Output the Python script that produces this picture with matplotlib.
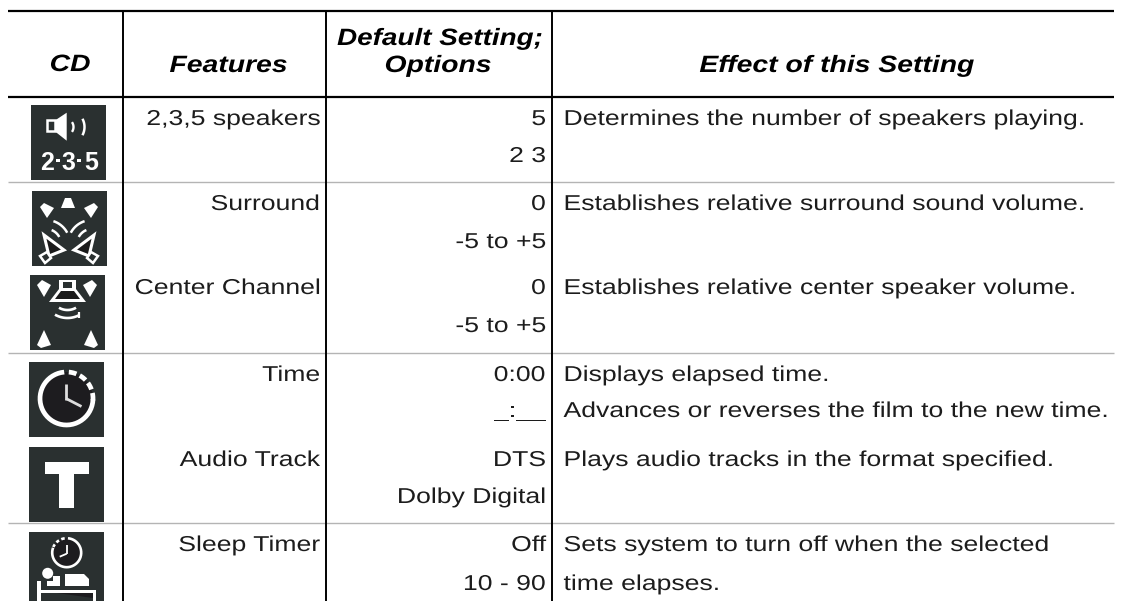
import numpy as np
import matplotlib
matplotlib.use("Agg")
import matplotlib.pyplot as plt
from matplotlib.patches import Polygon, Rectangle, Circle
from matplotlib.patheffects import AbstractPathEffect
from matplotlib.transforms import Affine2D

# table contents
headers = ["CD", "Features", "Default Setting;\nOptions", "Effect of this Setting"]
features = ["2,3,5 speakers", "Surround", "Center Channel", "Time", "Audio Track", "Sleep Timer"]
defaults = ["5", "0", "0", "0:00", "DTS", "Off"]
options = ["2 3", "-5 to +5", "-5 to +5", "_:__", "Dolby Digital", "10 - 90"]
effects = ["Determines the number of speakers playing.",
           "Establishes relative surround sound volume.",
           "Establishes relative center speaker volume.",
           "Displays elapsed time.",
           "Plays audio tracks in the format specified.",
           "Sets system to turn off when the selected"]
extra_effects = ["Advances or reverses the film to the new time.", "time elapses."]
icon_digits = ["2", "3", "5"]

# layout in pixels
row_y = [125, 210, 294, 381, 466, 551]
option_y = [162, 248, 332, 417, 503, 590]
extra_y = [417, 590]
icon_xy = [(31, 105), (32, 191), (30, 275), (29, 362), (29, 447), (29, 532)]
col_x = [123, 326, 552]
gray_y = [182, 353, 523]

DARK = "#2a3030"
INK = "#1c1c1c"
W = "white"

fig = plt.figure(figsize=(11.22, 6.01), dpi=100)
ax = fig.add_axes([0, 0, 1, 1])
ax.set_xlim(0, 1122)
ax.set_ylim(601, 0)
ax.axis("off")


# the original type is set wide, so widen the glyphs around the text anchor
class StretchX(AbstractPathEffect):
    def __init__(self, x0, sx):
        super().__init__()
        self.x0 = x0
        self.sx = sx

    def draw_path(self, renderer, gc, tpath, affine, rgbFace=None):
        wide = Affine2D().translate(-self.x0, 0).scale(self.sx, 1).translate(self.x0, 0)
        renderer.draw_path(gc, tpath, affine + wide, rgbFace)


def wide_text(x, y, s, sx, **kw):
    ax.text(x, y, s, path_effects=[StretchX(x, sx)], **kw)


def poly(pts, ox, oy, fc=W, ec="none", lw=0, z=3):
    pts = [(ox + x, oy + y) for x, y in pts]
    ax.add_patch(Polygon(pts, closed=True, fc=fc, ec=ec, lw=lw, zorder=z, joinstyle="miter"))


def arc(cx, cy, r, a0, a1, lw=1.6, color=W, z=4):
    t = np.radians(np.linspace(a0, a1, 40))
    ax.plot(cx + r * np.cos(t), cy - r * np.sin(t), color=color, lw=lw, zorder=z,
            solid_capstyle="butt")


def seg(x0, y0, x1, y1, lw=1.6, color=W, z=4):
    ax.plot([x0, x1], [y0, y1], color=color, lw=lw, zorder=z, solid_capstyle="butt")


# icon backgrounds
for i, (ix, iy) in enumerate(icon_xy):
    h = 69 if i == 5 else 75
    ax.add_patch(Rectangle((ix, iy), 75, h, fc=DARK, ec="none", zorder=2))

# icon 1 speaker
ox, oy = icon_xy[0]
ax.add_patch(Rectangle((ox + 16.5, oy + 15), 7.5, 11, fc=DARK, ec=W, lw=1.8, zorder=3))
poly([(24.7, 15), (35.7, 7.7), (35.7, 35.7), (24.7, 27)], ox, oy)
arc(ox + 34, oy + 22, 8.5, -35, 35, lw=1.7)
arc(ox + 36, oy + 22, 17.5, -28, 28, lw=1.8)
for d, dx in zip(icon_digits, [15.9, 37.5, 60.2]):
    ax.text(ox + dx, oy + 65, d, color=W, ha="center", va="baseline", fontsize=18,
            fontweight="bold", family="Liberation Sans", zorder=4)
ax.add_patch(Rectangle((ox + 25.2, oy + 53.5), 3.4, 3, fc=W, ec="none", zorder=4))
ax.add_patch(Rectangle((ox + 46.5, oy + 53.5), 3.4, 3, fc=W, ec="none", zorder=4))

# icon 2 surround
ox, oy = icon_xy[1]
poly([(33, 7), (39, 7), (43, 17), (29, 17)], ox, oy)
poly([(8, 16), (12, 12), (22, 17), (15, 27)], ox, oy)
poly([(66, 16), (62, 12), (52, 17), (59, 27)], ox, oy)
for sgn, mx in [(1, 0), (-1, 74)]:
    f = lambda x: mx + sgn * x
    poly([(f(12), 44), (f(32), 59), (f(17), 65)], ox, oy, fc="#1a1a1a", ec=W, lw=2.2)
    poly([(f(8), 65), (f(15), 61), (f(19), 67), (f(13), 72)], ox, oy, fc=DARK, ec=W, lw=1.8)
arc(ox + 14, oy + 53, 24, 28, 72, lw=1.8)
arc(ox + 14, oy + 53, 15, 28, 68, lw=1.8)
arc(ox + 60, oy + 53, 24, 108, 152, lw=1.8)
arc(ox + 60, oy + 53, 15, 112, 152, lw=1.8)

# icon 3 center channel
ox, oy = icon_xy[2]
poly([(7, 10), (12, 5), (21, 10), (14, 22)], ox, oy)
poly([(67, 10), (62, 5), (53, 10), (60, 22)], ox, oy)
poly([(29, 5), (46, 5), (46, 14), (56, 27), (19, 27), (29, 14)], ox, oy)
poly([(33, 7), (42, 7), (42, 13), (33, 13)], ox, oy, fc=DARK)
poly([(31, 16), (44, 16), (50, 24), (25, 24)], ox, oy, fc="#1a1a1a")
arc(ox + 37.5, oy + 18, 17, 240, 300, lw=1.9)
arc(ox + 37.5, oy + 18, 25, 240, 298, lw=1.9)
seg(ox + 49, oy + 37, ox + 49, oy + 43, lw=1.6)
poly([(7, 70), (14, 55), (21, 70), (11, 73)], ox, oy)
poly([(68, 70), (61, 55), (54, 70), (64, 73)], ox, oy)

# icon 4 clock
ox, oy = icon_xy[3]
cx, cy = ox + 37.5, oy + 36.5
ax.add_patch(Circle((cx, cy), 26.5, fc="#1d1c1f", ec="none", zorder=3))
arc(cx, cy, 26.5, 95, 358, lw=3.4)
for a0, a1 in [(68, 85), (44, 60), (20, 36), (-4, 12)]:
    arc(cx, cy, 26.5, a0, a1, lw=3.4)
seg(cx, cy + 1, cx, cy - 15, lw=2.0, color="#dddddd")
seg(cx - 0.5, cy, cx + 15, cy + 8, lw=2.0, color="#dddddd")

# icon 5 T
ox, oy = icon_xy[4]
ax.add_patch(Rectangle((ox + 16, oy + 14.5), 44, 12, fc=W, ec="none", zorder=3))
ax.add_patch(Rectangle((ox + 30.5, oy + 26), 14.5, 35, fc=W, ec="none", zorder=3))

# icon 6 sleep timer
ox, oy = icon_xy[5]
cx, cy = ox + 37.7, oy + 20.7
ax.add_patch(Circle((cx, cy), 14.5, fc="#1d1c1f", ec="none", zorder=3))
arc(cx, cy, 14.5, -200, 85, lw=1.9)
for a0, a1 in [(98, 112), (122, 135), (145, 157)]:
    arc(cx, cy, 14.5, a0, a1, lw=1.9)
seg(cx, cy + 1, cx, cy - 8, lw=1.3)
seg(cx, cy + 1, cx - 7, cy + 4, lw=1.3)
ax.add_patch(Circle((ox + 18.7, oy + 41.3), 5.5, fc=W, ec="none", zorder=3))
poly([(17.7, 49), (24, 49), (24, 44), (31, 44), (31, 54), (17.7, 54)], ox, oy)
poly([(36, 42), (55, 42), (60, 47), (60, 54), (36, 54)], ox, oy)
ax.add_patch(Rectangle((ox + 8.3, oy + 48.7), 3.5, 20, fc=W, ec="none", zorder=3))
ax.add_patch(Rectangle((ox + 64, oy + 58), 3.5, 11, fc=W, ec="none", zorder=3))
ax.add_patch(Rectangle((ox + 8.3, oy + 58), 59, 3, fc=W, ec="none", zorder=3))
poly([(28, 61), (64, 61), (64, 66)], ox, oy, fc="#1d1c1f")

# rules
ax.plot([8, 1114], [11, 11], color="black", lw=1.6, zorder=5, solid_capstyle="butt")
ax.plot([8, 1114], [97, 97], color="black", lw=1.6, zorder=5, solid_capstyle="butt")
for y in gray_y:
    ax.plot([8, 1114], [y, y], color="#b4b4b4", lw=1.0, zorder=1, solid_capstyle="butt")
for x in col_x:
    ax.plot([x, x], [11, 601], color="black", lw=1.4, zorder=5, solid_capstyle="butt")

# header
head = dict(family="Liberation Sans", fontweight="bold", fontstyle="italic", fontsize=17,
            color="black", ha="center", va="baseline")
head_sx = 1.2
wide_text(70, 71, headers[0], head_sx, **head)
wide_text(228.5, 72, headers[1], head_sx, **head)
top, bottom = headers[2].split("\n")
wide_text(440, 45, top, 1.18, **head)
wide_text(438, 72, bottom, head_sx, **head)
wide_text(837, 72, headers[3], head_sx, **head)

# body
body = dict(family="Liberation Sans", fontsize=15.5, color=INK, va="baseline")
body_sx = 1.235
for i in range(6):
    wide_text(320, row_y[i], features[i], body_sx, ha="right", **body)
    wide_text(546, row_y[i], defaults[i], body_sx, ha="right", **body)
    wide_text(546, option_y[i], options[i], body_sx, ha="right", **body)
    wide_text(563.5, row_y[i], effects[i], body_sx, ha="left", **body)
for t, y in zip(extra_effects, extra_y):
    wide_text(563.5, y, t, body_sx, ha="left", **body)

fig.savefig("out.png", dpi=100)
